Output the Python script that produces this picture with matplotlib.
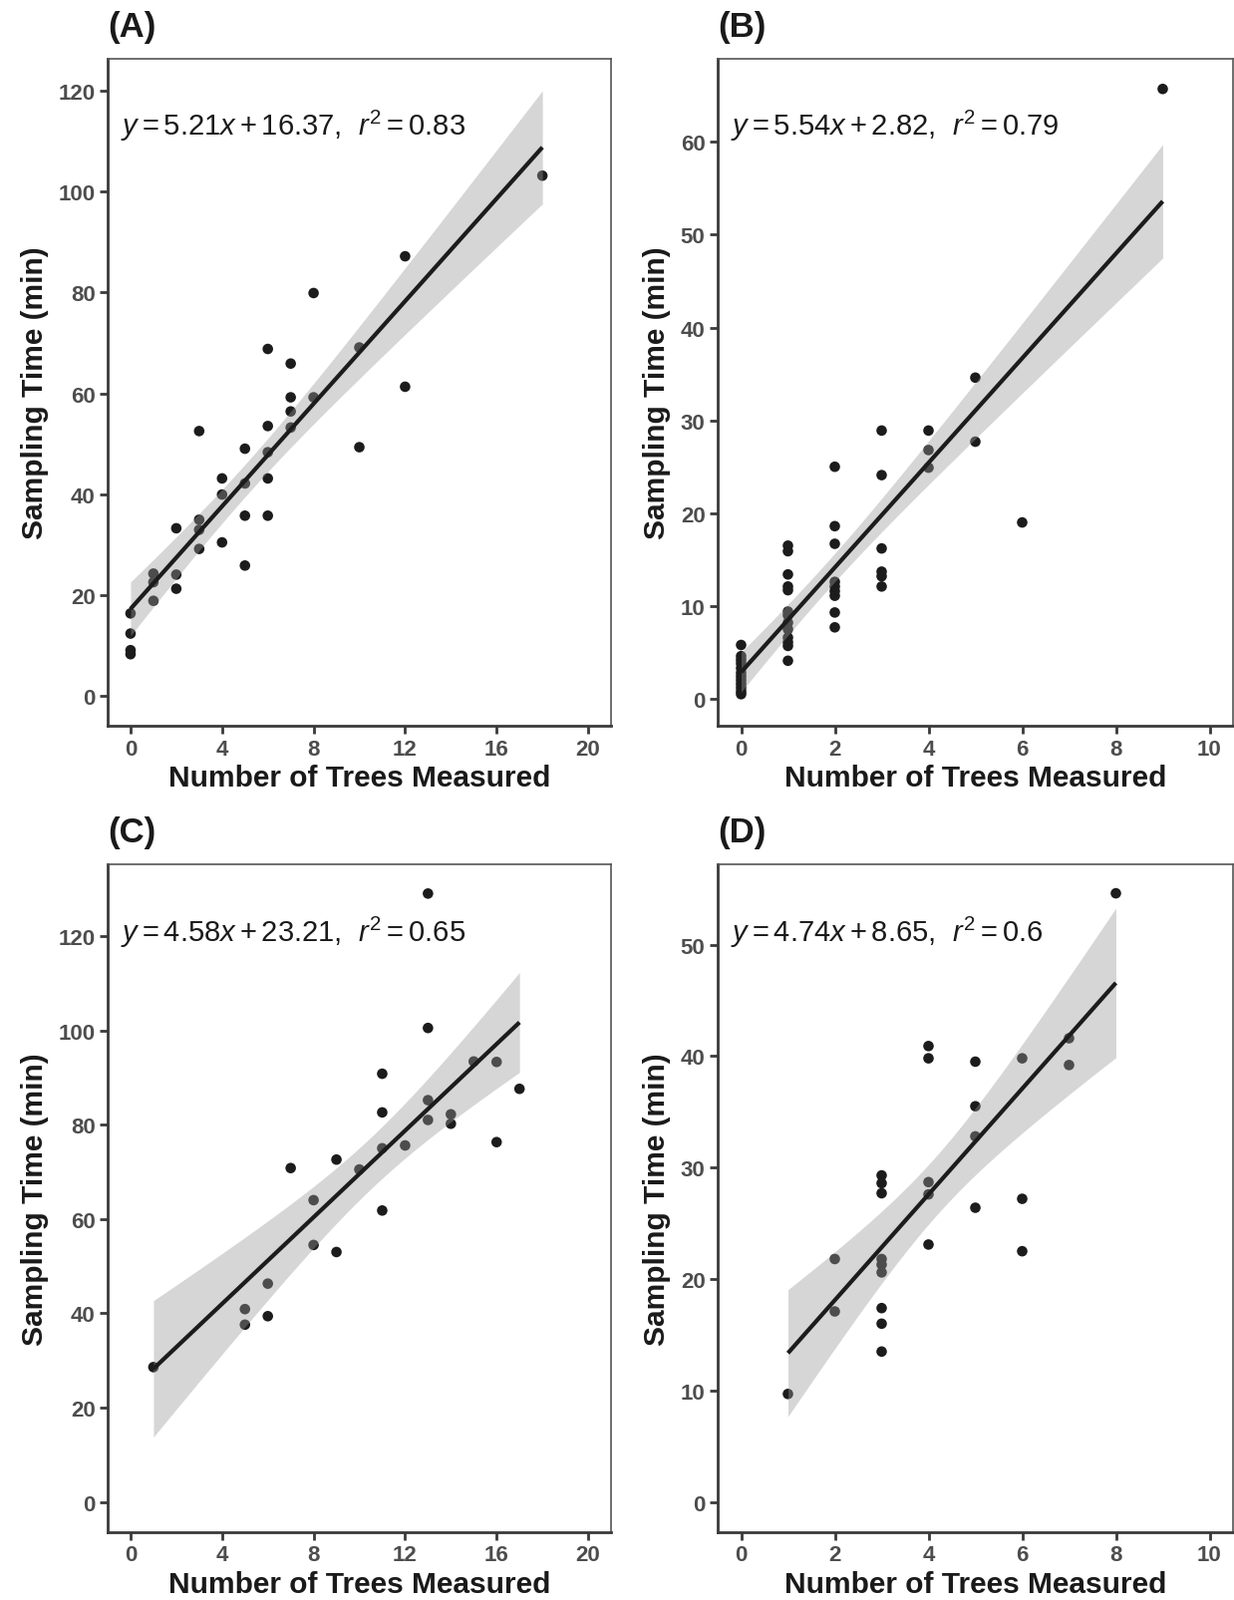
import matplotlib
matplotlib.use("Agg")
import matplotlib.pyplot as plt
import numpy as np

# Panel A
a_trees = [0, 0, 0, 0, 1, 1, 1, 2, 2, 2, 3, 3, 3, 3, 4, 4, 4, 5, 5, 5, 5,
           6, 6, 6, 6, 6, 7, 7, 7, 7, 8, 8, 10, 10, 12, 12, 18]
a_time = [16.3, 12.3, 9.0, 8.2, 24.2, 22.5, 18.8, 33.2, 24.0, 21.2,
          52.5, 34.9, 32.9, 29.1, 43.1, 39.9, 30.4, 49.0, 42.1, 35.7, 25.8,
          68.8, 53.5, 48.3, 43.1, 35.7, 65.9, 59.2, 56.4, 53.2, 79.9, 59.2,
          69.1, 49.3, 87.2, 61.3, 103.2]

# Panel B
b_trees = [0] * 12 + [1] * 13 + [2] * 9 + [3] * 6 + [4] * 3 + [5] * 2 + [6, 9]
b_time = [5.8, 4.6, 4.2, 3.8, 3.3, 2.8, 2.4, 2.0, 1.6, 1.2, 0.8, 0.5,
          16.5, 15.9, 13.4, 12.1, 11.7, 9.4, 9.0, 8.2, 7.5, 6.6, 6.1, 5.7, 4.1,
          25.0, 18.6, 16.7, 12.6, 12.1, 11.6, 11.1, 9.3, 7.7,
          28.9, 24.1, 16.2, 13.7, 13.2, 12.1,
          28.9, 26.8, 24.9,
          34.6, 27.7,
          19.0, 65.7]

# Panel C
c_trees = [1, 5, 5, 6, 6, 7, 8, 8, 9, 9, 10, 11, 11, 11, 11, 12, 13, 13, 13, 13,
           14, 14, 15, 16, 16, 17]
c_time = [28.6, 40.9, 37.6, 46.3, 39.4, 70.8, 64.0, 54.5, 72.6, 53.0, 70.5,
          90.8, 82.6, 75.0, 61.8, 75.6, 129.0, 100.5, 85.2, 81.0, 82.2, 80.2,
          93.4, 93.3, 76.3, 87.6]

# Panel D
d_trees = [1, 2, 2, 3, 3, 3, 3, 3, 3, 3, 3, 3, 4, 4, 4, 4, 4, 5, 5, 5, 5,
           6, 6, 6, 7, 7, 8]
d_time = [9.7, 21.8, 17.1, 29.3, 28.6, 27.7, 21.8, 21.3, 20.6, 17.4, 16.0, 13.5,
          40.9, 39.8, 28.7, 27.6, 23.1, 39.5, 35.5, 32.8, 26.4,
          39.8, 27.2, 22.5, 41.6, 39.2, 54.6]

panel_labels = ["(A)", "(B)", "(C)", "(D)"]
equations = [
    r"$y = 5.21x + 16.37,\ \, r^2 = 0.83$",
    r"$y = 5.54x + 2.82,\ \, r^2 = 0.79$",
    r"$y = 4.58x + 23.21,\ \, r^2 = 0.65$",
    r"$y = 4.74x + 8.65,\ \, r^2 = 0.6$",
]
x_ticks = [np.arange(0, 21, 4), np.arange(0, 11, 2), np.arange(0, 21, 4), np.arange(0, 11, 2)]
y_ticks = [np.arange(0, 121, 20), np.arange(0, 61, 10), np.arange(0, 121, 20), np.arange(0, 51, 10)]
x_lims = [(-1, 21), (-0.5, 10.5), (-1, 21), (-0.5, 10.5)]
y_lims = [(-6, 126.5), (-2.9, 69.0), (-6.4, 135.2), (-2.7, 57.2)]

W, H = 1238, 1606
# axes boxes in pixels: left, right, top, bottom
boxes = [(108, 613, 59.5, 729), (720, 1237, 59.5, 729),
         (108, 613, 868, 1538), (720, 1237, 868, 1538)]


def t_quantile(df, z=1.959964):
    # Cornish-Fisher expansion of the t quantile
    g1 = (z**3 + z) / 4
    g2 = (5 * z**5 + 16 * z**3 + 3 * z) / 96
    g3 = (3 * z**7 + 19 * z**5 + 17 * z**3 - 15 * z) / 384
    return z + g1 / df + g2 / df**2 + g3 / df**3


def fit_band(x, y):
    x = np.asarray(x, float)
    y = np.asarray(y, float)
    n = len(x)
    slope, intercept = np.polyfit(x, y, 1)
    resid = y - (slope * x + intercept)
    s = np.sqrt(np.sum(resid**2) / (n - 2))
    sxx = np.sum((x - x.mean())**2)
    xs = np.linspace(x.min(), x.max(), 80)
    fit = slope * xs + intercept
    se = s * np.sqrt(1 / n + (xs - x.mean())**2 / sxx)
    t = t_quantile(n - 2)
    return xs, fit, fit - t * se, fit + t * se


plt.rcParams["mathtext.fontset"] = "custom"
plt.rcParams["mathtext.rm"] = "Liberation Sans"
plt.rcParams["mathtext.it"] = "Liberation Sans:italic"
plt.rcParams["font.family"] = "Liberation Sans"

fig = plt.figure(figsize=(W / 100, H / 100), dpi=100)
fig.patch.set_facecolor("white")

data = [(a_trees, a_time), (b_trees, b_time), (c_trees, c_time), (d_trees, d_time)]

for i, (xd, yd) in enumerate(data):
    l, r, t, b = boxes[i]
    ax = fig.add_axes([l / W, 1 - b / H, (r - l) / W, (b - t) / H])

    ax.scatter(xd, yd, s=58, color="#1c1c1c", edgecolors="none", zorder=2)
    xs, fit, lo, hi = fit_band(xd, yd)
    ax.fill_between(xs, lo, hi, color="#999999", alpha=0.4, linewidth=0, zorder=3)
    ax.plot(xs, fit, color="#1c1c1c", linewidth=3.0, zorder=4, solid_capstyle="butt")

    ax.set_xlim(*x_lims[i])
    ax.set_ylim(*y_lims[i])
    ax.set_xticks(x_ticks[i])
    ax.set_yticks(y_ticks[i])

    for side in ["left", "bottom"]:
        ax.spines[side].set_linewidth(2.0)
        ax.spines[side].set_color("#3a3a3a")
    for side in ["top", "right"]:
        ax.spines[side].set_linewidth(1.2)
        ax.spines[side].set_color("#555555")

    ax.tick_params(axis="both", direction="out", length=6, width=2.0,
                   color="#3a3a3a", pad=3)
    for lab in ax.get_xticklabels() + ax.get_yticklabels():
        lab.set_fontweight("bold")
        lab.set_fontsize(16)
        lab.set_color("#4d4d4d")

    ax.set_xlabel("Number of Trees Measured", fontsize=21.5, fontweight="bold",
                  color="#1a1a1a", labelpad=3)
    ax.set_ylabel("Sampling Time (min)", fontsize=21.5, fontweight="bold",
                  color="#1a1a1a", labelpad=7)

    ax.text(0.025, 0.9, equations[i], transform=ax.transAxes, ha="left",
            va="center", fontsize=21, color="#1a1a1a")

    fig.text(l / W, 1 - 27 / H if i < 2 else 1 - 836 / H, panel_labels[i],
             ha="left", va="center", fontsize=25, fontweight="bold", color="#1a1a1a")

fig.savefig("out.png", dpi=100)
